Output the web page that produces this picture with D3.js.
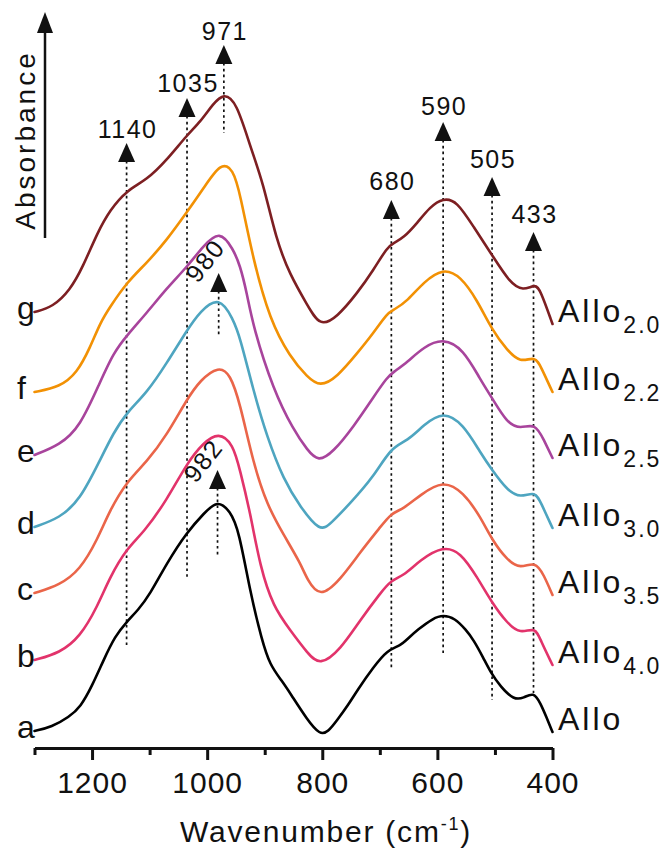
<!DOCTYPE html>
<html><head><meta charset="utf-8">
<script src="https://cdn.jsdelivr.net/npm/d3@7"></script>
<style>
body{margin:0;background:#fff}
svg{display:block}
text{font-family:"Liberation Sans",Arial,Helvetica,sans-serif;fill:#111}
</style>
</head><body>
<svg id="chart" width="662" height="848"></svg>
<script>
// ---------------- DATA ----------------
const seriesKeys   = ["a", "b", "c", "d", "e", "f", "g"];
const seriesNames  = ["Allo", "Allo", "Allo", "Allo", "Allo", "Allo", "Allo"];
const seriesSubs   = ["", "4.0", "3.5", "3.0", "2.5", "2.2", "2.0"];
const seriesColors = ["#000000", "#e2336b", "#ea6549", "#4ea5c0", "#a8449c", "#f29104", "#7d1f22"];

const xMajorTicks = [1200, 1000, 800, 600, 400];
const xMinorTicks = [1300, 1100, 900, 700, 500];

const peakMarks  = [1140, 1035, 971, 680, 590, 505, 433];
const innerPeaks = [980, 982];

// [wavenumber (cm-1), absorbance (a.u., offset)]
const specA = [[1300,0.17],[1270,0.21],[1240,0.31],[1220,0.41],[1200,0.62],[1180,0.88],[1160,1.12],[1140,1.26],[1120,1.38],[1100,1.53],[1070,1.85],[1035,2.16],[1005,2.35],[982,2.48],[960,2.37],[945,2.18],[925,1.55],[905,1.08],[891,0.83],[870,0.67],[856,0.55],[826,0.28],[804,0.13],[790,0.16],[774,0.28],[755,0.43],[739,0.58],[711,0.81],[687,0.98],[665,1.02],[650,1.10],[635,1.18],[607,1.30],[590,1.33],[570,1.30],[550,1.18],[537,1.08],[520,0.90],[508,0.76],[490,0.61],[467,0.48],[450,0.50],[433,0.56],[421,0.45],[410,0.30],[400,0.16]];
const specB = [[1300,0.88],[1256,0.95],[1221,1.11],[1191,1.41],[1169,1.71],[1139,2.00],[1111,2.15],[1070,2.48],[1035,2.85],[1007,3.05],[980,3.16],[955,3.04],[943,2.78],[925,2.35],[908,1.81],[885,1.41],[856,1.18],[826,0.95],[804,0.82],[769,0.98],[734,1.28],[699,1.55],[680,1.68],[659,1.72],[630,1.88],[590,2.02],[560,1.96],[531,1.71],[505,1.45],[479,1.25],[456,1.14],[430,1.21],[421,1.08],[400,0.83]];
const specC = [[1300,1.55],[1256,1.63],[1221,1.78],[1191,2.08],[1169,2.38],[1139,2.67],[1105,2.86],[1070,3.13],[1036,3.48],[1012,3.68],[980,3.82],[960,3.74],[943,3.45],[920,2.85],[896,2.43],[867,2.13],[838,1.85],[826,1.68],[804,1.50],[769,1.68],[734,1.96],[699,2.21],[680,2.35],[659,2.39],[630,2.53],[590,2.68],[555,2.56],[525,2.31],[505,2.08],[479,1.88],[456,1.79],[430,1.87],[415,1.73],[400,1.53]];
const specD = [[1300,2.21],[1256,2.30],[1221,2.48],[1186,2.88],[1163,3.15],[1139,3.36],[1105,3.55],[1070,3.85],[1036,4.17],[1012,4.37],[979,4.52],[955,4.29],[943,4.11],[920,3.58],[896,3.11],[867,2.68],[838,2.41],[804,2.16],[786,2.24],[751,2.45],[711,2.71],[680,3.01],[652,3.07],[624,3.23],[590,3.37],[555,3.24],[525,2.95],[505,2.78],[479,2.58],[456,2.50],[430,2.57],[420,2.45],[400,2.20]];
const specE = [[1300,2.93],[1256,3.03],[1221,3.21],[1186,3.66],[1163,3.95],[1139,4.13],[1105,4.35],[1070,4.60],[1035,4.81],[1007,5.02],[978,5.18],[955,4.99],[943,4.83],[931,4.55],[920,4.21],[885,3.58],[850,3.18],[826,2.98],[807,2.86],[781,2.96],[746,3.21],[711,3.51],[687,3.71],[676,3.76],[652,3.86],[624,4.01],[590,4.10],[555,3.99],[525,3.68],[505,3.50],[479,3.25],[456,3.19],[430,3.25],[415,3.08],[400,2.90]];
const specF = [[1300,3.56],[1256,3.61],[1226,3.75],[1203,4.01],[1186,4.25],[1169,4.41],[1139,4.66],[1105,4.85],[1070,5.08],[1035,5.36],[1007,5.59],[976,5.86],[955,5.79],[943,5.55],[920,4.88],[891,4.28],[856,3.91],[826,3.71],[804,3.61],[774,3.71],[739,3.95],[711,4.15],[687,4.35],[676,4.38],[652,4.47],[624,4.66],[590,4.80],[560,4.72],[531,4.48],[505,4.18],[479,3.98],[456,3.85],[430,3.92],[420,3.81],[400,3.56]];
const specG = [[1300,4.36],[1268,4.41],[1238,4.58],[1216,4.81],[1191,5.15],[1169,5.38],[1139,5.58],[1105,5.68],[1070,5.88],[1035,6.13],[1012,6.26],[990,6.44],[971,6.55],[949,6.46],[925,6.01],[903,5.66],[880,5.08],[856,4.73],[826,4.43],[804,4.21],[774,4.31],[739,4.55],[711,4.78],[687,5.01],[676,5.05],[659,5.10],[635,5.25],[613,5.41],[590,5.50],[566,5.47],[537,5.21],[505,4.93],[474,4.65],[451,4.57],[430,4.64],[421,4.58],[400,4.24]];

const allSpectra = [specA, specB, specC, specD, specE, specF, specG];

// ---------------- LAYOUT ----------------
const svg = d3.select("#chart");
const axisY = 748;
const x = d3.scaleLinear().domain([1300, 400]).range([34.5, 552.5]);
const y = d3.scaleLinear().domain([0, 7.48]).range([axisY, 0]);

// annotation layout (pixels): label baseline, arrow tip, dotted line bottom
const markLayout = {
  1140: {label: 138, tip: 143, bottom: 648},
  1035: {label: 92,  tip: 98,  bottom: 577},
  971:  {label: 40,  tip: 45,  bottom: 133},
  680:  {label: 190, tip: 200, bottom: 668},
  590:  {label: 115, tip: 122, bottom: 653},
  505:  {label: 168, tip: 177, bottom: 700},
  433:  {label: 223, tip: 232, bottom: 693}
};
const innerLayout = {
  980: {lx: 212, ly: 266, tip: 273, bottom: 337},
  982: {lx: 210, ly: 466, tip: 470, bottom: 555}
};

function arrowHead(g, cx, tip, h, hw) {
  g.append("path")
    .attr("d", `M${cx},${tip} L${cx + hw},${tip + h} L${cx - hw},${tip + h} Z`)
    .attr("fill", "#111");
}

const ann = svg.append("g");
peakMarks.forEach(p => {
  const L = markLayout[p];
  ann.append("line").attr("x1", x(p)).attr("x2", x(p))
    .attr("y1", L.tip + 18).attr("y2", L.bottom)
    .attr("stroke", "#111").attr("stroke-width", 1.7).attr("stroke-dasharray", "2.6,3.2");
});
innerPeaks.forEach(p => {
  const L = innerLayout[p];
  ann.append("line").attr("x1", x(p)).attr("x2", x(p))
    .attr("y1", L.tip + 18).attr("y2", L.bottom)
    .attr("stroke", "#111").attr("stroke-width", 1.7).attr("stroke-dasharray", "2.6,3.2");
});

// spectra
const line = d3.line().x(d => x(d[0])).y(d => y(d[1])).curve(d3.curveBasis);
const curves = svg.append("g");
allSpectra.forEach((s, i) => {
  curves.append("path").datum(s).attr("d", line)
    .attr("fill", "none").attr("stroke", seriesColors[i])
    .attr("stroke-width", 2.6).attr("stroke-linejoin", "round").attr("stroke-linecap", "round");
});

// arrows + labels
peakMarks.forEach(p => {
  const L = markLayout[p];
  arrowHead(ann, x(p), L.tip, 19, 8.5);
  ann.append("text").attr("x", x(p) + 1).attr("y", L.label)
    .attr("text-anchor", "middle").attr("font-size", 25).attr("letter-spacing", 1.5)
    .text(p);
});
innerPeaks.forEach(p => {
  const L = innerLayout[p];
  arrowHead(ann, x(p), L.tip, 19, 8.5);
  ann.append("text").attr("transform", `translate(${L.lx},${L.ly}) rotate(-52)`)
    .attr("text-anchor", "middle").attr("font-size", 25).attr("letter-spacing", 1.5)
    .text(p);
});

// left letters and right names
allSpectra.forEach((s, i) => {
  const first = s[0], last = s[s.length - 1];
  svg.append("text").attr("x", 17).attr("y", y(first[1]) + 7)
    .attr("font-size", 32).text(seriesKeys[i]);
  const t = svg.append("text").attr("x", 558).attr("y", y(last[1]) - 2)
    .attr("font-size", 32).attr("letter-spacing", 3);
  t.append("tspan").text(seriesNames[i]);
  if (seriesSubs[i]) {
    t.append("tspan").attr("dy", 11).attr("font-size", 23).attr("letter-spacing", 2).text(seriesSubs[i]);
  }
});

// x axis
const axG = svg.append("g").attr("transform", `translate(0,${axisY})`);
axG.call(d3.axisBottom(x).tickValues(xMajorTicks).tickSize(12).tickSizeOuter(0).tickPadding(12).tickFormat(d3.format("d")));
axG.select(".domain").attr("stroke", "#111").attr("stroke-width", 3);
axG.selectAll(".tick line").attr("stroke", "#111").attr("stroke-width", 3);
axG.selectAll(".tick text").attr("font-size", 30).attr("letter-spacing", 1)
  .attr("font-family", '"Liberation Sans",Arial,sans-serif').attr("fill", "#111")
  .attr("dy", null).attr("y", 45);
const axMinor = svg.append("g").attr("transform", `translate(0,${axisY})`);
axMinor.call(d3.axisBottom(x).tickValues(xMinorTicks).tickSize(7).tickSizeOuter(0).tickFormat(""));
axMinor.select(".domain").remove();
axMinor.selectAll(".tick line").attr("stroke", "#111").attr("stroke-width", 3);

// x axis title
const xt = svg.append("text").attr("x", 326).attr("y", 842).attr("text-anchor", "middle")
  .attr("font-size", 30).attr("letter-spacing", 1.8);
xt.append("tspan").text("Wavenumber (cm");
xt.append("tspan").attr("dy", -12).attr("font-size", 18).text("-1");
xt.append("tspan").attr("dy", 12).text(")");

// Absorbance arrow + label
svg.append("line").attr("x1", 45).attr("x2", 45).attr("y1", 238).attr("y2", 28)
  .attr("stroke", "#111").attr("stroke-width", 2.5);
arrowHead(svg, 45, 12, 21, 8);
svg.append("text").attr("transform", "translate(35,140) rotate(-90)")
  .attr("text-anchor", "middle").attr("font-size", 28).attr("letter-spacing", 3)
  .text("Absorbance");
</script>
</body></html>
